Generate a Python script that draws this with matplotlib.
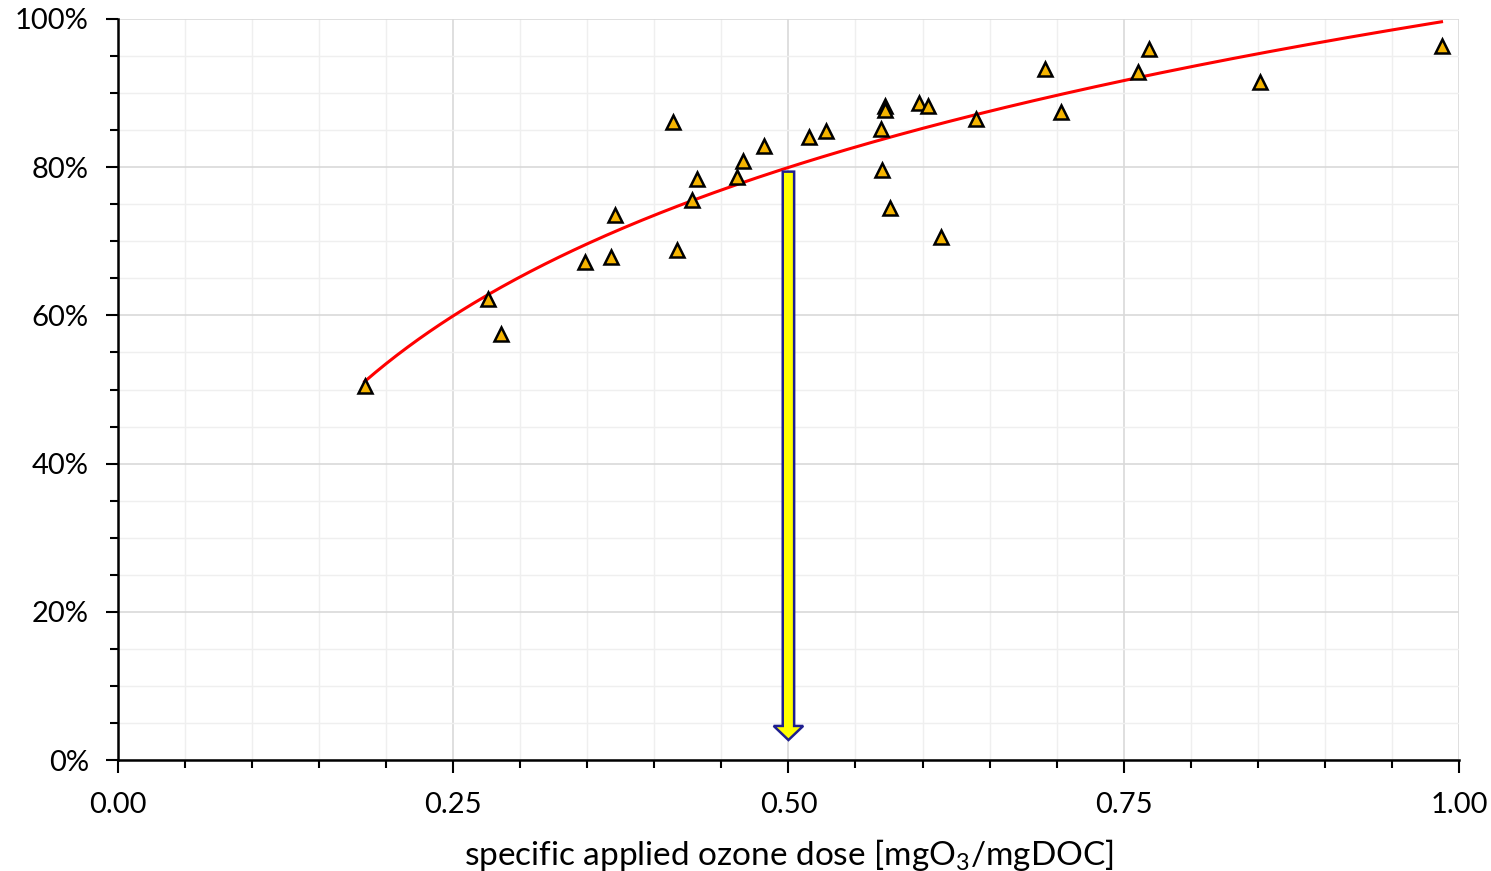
import numpy as np
import matplotlib.pyplot as plt
from matplotlib.patches import FancyArrow
from matplotlib.ticker import MultipleLocator, PercentFormatter

plt.rcParams['font.family'] = ['Lato', 'DejaVu Sans']
plt.rcParams['mathtext.fontset'] = 'custom'
plt.rcParams['mathtext.rm'] = 'Lato'

# measured points: specific ozone dose vs removal
dose = [0.184, 0.276, 0.286, 0.348, 0.368, 0.371, 0.414, 0.417, 0.428, 0.432,
        0.462, 0.466, 0.482, 0.515, 0.528, 0.569, 0.570, 0.572, 0.572, 0.576,
        0.597, 0.604, 0.614, 0.640, 0.691, 0.703, 0.761, 0.769, 0.852, 0.987]
removal = [0.505, 0.622, 0.575, 0.672, 0.679, 0.735, 0.861, 0.688, 0.756, 0.784,
           0.787, 0.808, 0.829, 0.841, 0.849, 0.852, 0.796, 0.883, 0.877, 0.745,
           0.887, 0.883, 0.706, 0.865, 0.933, 0.874, 0.928, 0.960, 0.915, 0.964]

# logarithmic trendline: y = a + b*ln(x)
trend_a = 1.0
trend_b = 0.289
trend_x = [0.184, 0.987]

# arrow at the reference dose
arrow_x = 0.5
arrow_top = 0.794
arrow_tip = 0.027

fig = plt.figure(figsize=(14.91, 8.71), dpi=100)
ax = fig.add_axes([0.0791, 0.1274, 0.8994, 0.8508])

xs = np.linspace(trend_x[0], trend_x[1], 300)
ax.plot(xs, trend_a + trend_b*np.log(xs), color='#ff0000', lw=2.2, zorder=3)

ax.plot(dose, removal, linestyle='none', marker='^', ms=10.5, mfc='#f5b400',
        mec='black', mew=1.8, zorder=4)

arr = FancyArrow(arrow_x, arrow_top, 0, arrow_tip - arrow_top, width=0.0085,
                 head_width=0.022, head_length=0.019, length_includes_head=True,
                 fc='#ffff00', ec='#1f1f8f', lw=1.8, zorder=5)
ax.add_patch(arr)

ax.set_xlim(0, 1)
ax.set_ylim(0, 1)
ax.xaxis.set_major_locator(MultipleLocator(0.25))
ax.xaxis.set_minor_locator(MultipleLocator(0.05))
ax.yaxis.set_major_locator(MultipleLocator(0.2))
ax.yaxis.set_minor_locator(MultipleLocator(0.05))
ax.yaxis.set_major_formatter(PercentFormatter(1.0, decimals=0))
ax.xaxis.set_major_formatter(lambda v, p: '%.2f' % v)

ax.grid(which='major', color='#d9d9d9', lw=1.2, zorder=0)
ax.grid(which='minor', color='#efefef', lw=1.0, zorder=0)
ax.set_axisbelow(True)

for s in ['top', 'right']:
    ax.spines[s].set_visible(False)
for s in ['left', 'bottom']:
    ax.spines[s].set_linewidth(1.8)
    ax.spines[s].set_zorder(6)

ax.tick_params(axis='both', which='major', length=9, width=1.5, labelsize=21, colors='black')
ax.tick_params(axis='both', which='minor', length=6, width=1.5)
ax.tick_params(axis='x', which='major', pad=14)
ax.tick_params(axis='y', which='major', pad=12)

ax.set_xlabel(r'specific applied ozone dose [mgO$_\mathregular{3}$/mgDOC]', fontsize=24, labelpad=14)

fig.savefig('out.png', dpi=100)
